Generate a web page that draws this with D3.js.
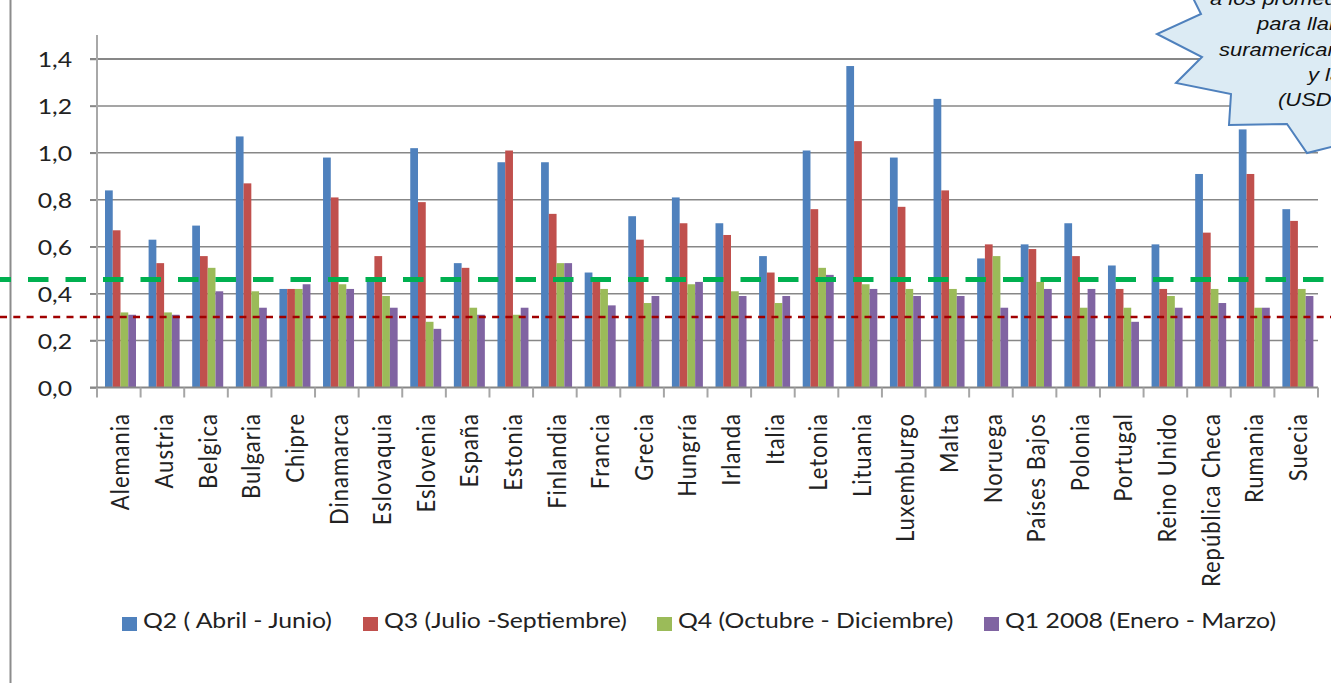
<!DOCTYPE html>
<html>
<head>
<meta charset="utf-8">
<script src="https://cdn.jsdelivr.net/npm/d3@7"></script>
<style>
  body { margin: 0; background: #fff; overflow: hidden; }
  svg { display: block; }
</style>
</head>
<body>
<script>
// datos (USD)
const categories = ["Alemania", "Austria", "Belgica", "Bulgaria", "Chipre", "Dinamarca", "Eslovaquia",
    "Eslovenia", "España", "Estonia", "Finlandia", "Francia", "Grecia", "Hungría", "Irlanda", "Italia",
    "Letonia", "Lituania", "Luxemburgo", "Malta", "Noruega", "Países Bajos", "Polonia", "Portugal",
    "Reino Unido", "República Checa", "Rumania", "Suecia"];

const seriesNames = ["Q2 ( Abril - Junio)", "Q3 (Julio -Septiembre)", "Q4 (Octubre - Diciembre)", "Q1 2008 (Enero - Marzo)"];

const q2 = [0.84, 0.63, 0.69, 1.07, 0.42, 0.98, 0.45, 1.02, 0.53, 0.96, 0.96, 0.49, 0.73, 0.81,
    0.70, 0.56, 1.01, 1.37, 0.98, 1.23, 0.55, 0.61, 0.70, 0.52, 0.61, 0.91, 1.10, 0.76];
const q3 = [0.67, 0.53, 0.56, 0.87, 0.42, 0.81, 0.56, 0.79, 0.51, 1.01, 0.74, 0.45, 0.63, 0.70,
    0.65, 0.49, 0.76, 1.05, 0.77, 0.84, 0.61, 0.59, 0.56, 0.42, 0.42, 0.66, 0.91, 0.71];
const q4 = [0.32, 0.32, 0.51, 0.41, 0.42, 0.44, 0.39, 0.28, 0.34, 0.31, 0.53, 0.42, 0.36, 0.44,
    0.41, 0.36, 0.51, 0.44, 0.42, 0.42, 0.56, 0.45, 0.34, 0.34, 0.39, 0.42, 0.34, 0.42];
const q1 = [0.31, 0.31, 0.41, 0.34, 0.44, 0.42, 0.34, 0.25, 0.31, 0.34, 0.53, 0.35, 0.39, 0.45,
    0.39, 0.39, 0.48, 0.42, 0.39, 0.39, 0.34, 0.42, 0.42, 0.28, 0.34, 0.36, 0.34, 0.39];

const yTicks = [0, 0.2, 0.4, 0.6, 0.8, 1.0, 1.2, 1.4];

// lineas de promedio
const promedioVerde = [0.46];
const promedioRojo = [0.30];

const calloutLines = ["a los promedios", "para llamadas", "suramericanas", "y la UE", "(USD / min)"];

const colors = ["#4f81bd", "#c0504d", "#9bbb59", "#8064a2"];
const series = [q2, q3, q4, q1];

const width = 1331, height = 683;
const stretch = 1.18; // el original esta estirado a lo ancho
const font = "Lato, 'Open Sans', sans-serif";

const svg = d3.select("body").append("svg")
    .attr("width", width)
    .attr("height", height);

const x0 = d3.scaleBand().domain(categories).range([97, 1318]);
const x1 = d3.scaleBand().domain(seriesNames).range([8, 39]);
const y = d3.scaleLinear().domain([0, 1.4]).range([387.5, 59]);
const esLocale = d3.formatLocale({decimal: ",", thousands: ".", grouping: [3], currency: ["", "€"]});
const fmt = esLocale.format(".1f");

// borde izquierdo del area
svg.append("line")
    .attr("x1", 10.5).attr("x2", 10.5)
    .attr("y1", 0).attr("y2", height)
    .style("stroke", "#8c8c8c")
    .style("stroke-width", 2);

// cuadricula
svg.append("g").attr("id", "grid")
    .selectAll("line")
    .data(yTicks.filter(t => t > 0))
    .enter()
    .append("line")
    .attr("x1", 90).attr("x2", 1318)
    .attr("y1", d => y(d)).attr("y2", d => y(d))
    .style("stroke", "#878787")
    .style("stroke-width", d => d === 1.4 ? 2 : 1.5);

// barras
svg.append("g").attr("id", "bars")
    .selectAll("g")
    .data(categories)
    .enter()
    .append("g")
    .attr("transform", c => `translate(${x0(c)},0)`)
    .selectAll("rect")
    .data((c, i) => series.map((s, k) => ({key: seriesNames[k], value: s[i], color: colors[k]})))
    .enter()
    .append("rect")
    .attr("x", d => x1(d.key))
    .attr("y", d => y(d.value))
    .attr("width", x1.bandwidth())
    .attr("height", d => y(0) - y(d.value))
    .style("fill", d => d.color);

// eje y
const yAxis = svg.append("g")
    .attr("transform", "translate(97,0)")
    .call(d3.axisLeft(y).tickValues(yTicks).tickFormat(fmt).tickSize(7).tickSizeOuter(0));
yAxis.select(".domain").remove();
yAxis.selectAll(".tick line").style("stroke", "#878787").style("stroke-width", 1.5);
yAxis.selectAll(".tick text")
    .attr("x", -25 / stretch)
    .attr("dy", "0.36em")
    .attr("transform", `scale(${stretch},1)`)
    .style("font-family", font)
    .style("font-size", "21px")
    .style("fill", "#222");
svg.append("line")
    .attr("x1", 97).attr("x2", 97)
    .attr("y1", 35).attr("y2", y(0))
    .style("stroke", "#a8a8a8")
    .style("stroke-width", 2);

// eje x
svg.append("line")
    .attr("x1", 90).attr("x2", 1318)
    .attr("y1", y(0)).attr("y2", y(0))
    .style("stroke", "#878787")
    .style("stroke-width", 2);
svg.append("g").attr("id", "xticks")
    .selectAll("line")
    .data(categories.concat(["__fin"]))
    .enter()
    .append("line")
    .attr("x1", (c, i) => 97 + i * x0.step()).attr("x2", (c, i) => 97 + i * x0.step())
    .attr("y1", y(0)).attr("y2", y(0) + 10)
    .style("stroke", "#a6a6a6")
    .style("stroke-width", 2);

svg.append("g").attr("id", "xlabels")
    .selectAll("text")
    .data(categories)
    .enter()
    .append("text")
    .attr("transform", c => `translate(${x0(c) + x0.bandwidth() / 2 + 1.6},413) scale(${stretch},1) rotate(-90)`)
    .attr("dy", "0.35em")
    .attr("text-anchor", "end")
    .style("font-family", font)
    .style("font-size", "22px")
    .style("letter-spacing", "1px")
    .style("fill", "#222")
    .text(c => c);

// lineas de referencia
svg.selectAll(".verde")
    .data(promedioVerde)
    .enter()
    .append("line")
    .attr("class", "verde")
    .attr("x1", 0).attr("x2", width)
    .attr("y1", d => y(d)).attr("y2", d => y(d))
    .style("stroke", "#00b050")
    .style("stroke-width", 5)
    .style("stroke-dasharray", "20.5,17")
    .style("stroke-dashoffset", 9.5);

svg.selectAll(".rojo")
    .data(promedioRojo)
    .enter()
    .append("line")
    .attr("class", "rojo")
    .attr("x1", 0).attr("x2", width)
    .attr("y1", d => y(d)).attr("y2", d => y(d))
    .style("stroke", "#a00000")
    .style("stroke-width", 2.5)
    .style("stroke-dasharray", "7,6.3");

// leyenda
const legendX = [122, 363, 657, 984];
const legend = svg.append("g").attr("id", "legend")
    .selectAll("g")
    .data(seriesNames)
    .enter()
    .append("g")
    .attr("transform", (d, i) => `translate(${legendX[i]},0)`);
legend.append("rect")
    .attr("x", 0).attr("y", 617)
    .attr("width", 15).attr("height", 14)
    .style("fill", (d, i) => colors[i]);
legend.append("text")
    .attr("transform", `translate(21,628) scale(${stretch},1)`)
    .style("font-family", font)
    .style("font-size", "21px")
    .style("fill", "#222")
    .text(d => d);

// globo de texto (recortado por el borde)
const callout = svg.append("g").attr("id", "callout");
callout.append("polygon")
    .attr("points", [[1190, -10], [1193, -2], [1201, 14], [1157, 34], [1202, 57], [1176, 83], [1231, 94],
        [1229, 125], [1287, 124], [1307, 153], [1335, 146], [1400, 140], [1400, -10]].join(" "))
    .style("fill", "#dcebf4")
    .style("stroke", "#4f81bd")
    .style("stroke-width", 2);
const calloutX = [1210, 1257, 1219, 1308, 1278];
callout.selectAll("text")
    .data(calloutLines)
    .enter()
    .append("text")
    .attr("transform", (d, i) => `translate(${calloutX[i]},${5 + i * 25.3}) scale(${stretch},1)`)
    .style("font-family", "'Liberation Sans', Arial, sans-serif")
    .style("font-style", "italic")
    .style("font-size", "18.6px")
    .style("fill", "#111")
    .text(d => d);
</script>
</body>
</html>
